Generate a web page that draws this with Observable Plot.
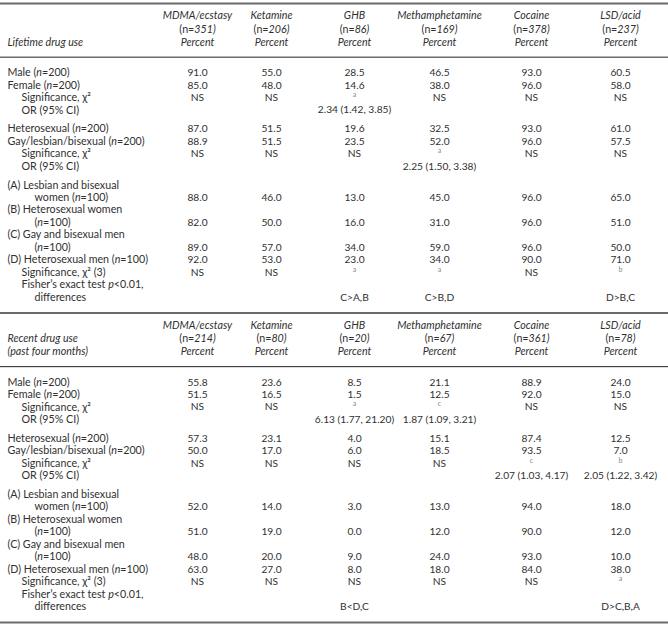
<!DOCTYPE html>
<html><head><meta charset="utf-8">
<script src="https://cdn.jsdelivr.net/npm/d3@7"></script>
<script src="https://cdn.jsdelivr.net/npm/@observablehq/plot@0.6"></script>
<style>
body{margin:0;background:#fff;}
#chart svg{display:block;}
</style></head><body><div id="chart"></div>
<script>
// ---------- data ----------
const drugs = ["MDMA/ecstasy","Ketamine","GHB","Methamphetamine","Cocaine","LSD/acid"];
const panelTitles = [["Lifetime drug use"], ["Recent drug use","(past four months)"]];
const lifetimeN = [351,206,86,169,378,237];
const recentN = [214,80,20,67,361,78];
const rowLabels = [
  "Male (*n*=200)",
  "Female (*n*=200)",
  "Significance, χ²",
  "OR (95% CI)",
  "Heterosexual (*n*=200)",
  "Gay/lesbian/bisexual (*n*=200)",
  "Significance, χ²",
  "OR (95% CI)",
  "(A) Lesbian and bisexual",
  "women (*n*=100)",
  "(B) Heterosexual women",
  "(*n*=100)",
  "(C) Gay and bisexual men",
  "(*n*=100)",
  "(D) Heterosexual men (*n*=100)",
  "Significance, χ² (3)",
  "Fisher’s exact test *p*<0.01,",
  "differences"
];
// one entry per label line; null = no values on that line; "^a" = superscript note
const lifetimeCells = [
  ["91.0","55.0","28.5","46.5","93.0","60.5"],
  ["85.0","48.0","14.6","38.0","96.0","58.0"],
  ["NS","NS","^a","NS","NS","NS"],
  ["","","2.34 (1.42, 3.85)","","",""],
  ["87.0","51.5","19.6","32.5","93.0","61.0"],
  ["88.9","51.5","23.5","52.0","96.0","57.5"],
  ["NS","NS","NS","^a","NS","NS"],
  ["","","","2.25 (1.50, 3.38)","",""],
  null,
  ["88.0","46.0","13.0","45.0","96.0","65.0"],
  null,
  ["82.0","50.0","16.0","31.0","96.0","51.0"],
  null,
  ["89.0","57.0","34.0","59.0","96.0","50.0"],
  ["92.0","53.0","23.0","34.0","90.0","71.0"],
  ["NS","NS","^a","^a","NS","^b"],
  null,
  ["","","C>A,B","C>B,D","","D>B,C"]
];
const recentCells = [
  ["55.8","23.6","8.5","21.1","88.9","24.0"],
  ["51.5","16.5","1.5","12.5","92.0","15.0"],
  ["NS","NS","^a","^c","NS","NS"],
  ["","","6.13 (1.77, 21.20)","1.87 (1.09, 3.21)","",""],
  ["57.3","23.1","4.0","15.1","87.4","12.5"],
  ["50.0","17.0","6.0","18.5","93.5","7.0"],
  ["NS","NS","NS","NS","^c","^b"],
  ["","","","","2.07 (1.03, 4.17)","2.05 (1.22, 3.42)"],
  null,
  ["52.0","14.0","3.0","13.0","94.0","18.0"],
  null,
  ["51.0","19.0","0.0","12.0","90.0","12.0"],
  null,
  ["48.0","20.0","9.0","24.0","93.0","10.0"],
  ["63.0","27.0","8.0","18.0","84.0","38.0"],
  ["NS","NS","NS","NS","NS","^a"],
  null,
  ["","","B<D,C","","","D>C,B,A"]
];

// ---------- layout (units of one body line) ----------
const colRange = [7, 197, 271, 354, 439, 531, 620];   // x range for the ordinal column scale
const rowIndent = [0,0,1,1, 0,0,1,1, 0,2,0,2,0,2,0,1,1,2];
const PANEL = 24.8, HEAD = [1.0, 2.05, 3.1], HEAD_RULE = 4.3, BODY0 = 5.55, GAP = 0.5;
const lineY = (p, i) => p * PANEL + BODY0 + i + (i >= 4 ? GAP : 0) + (i >= 8 ? GAP : 0);

// ---------- build tables ----------
const labels = [], cells = [], notes = [], heads = [], titles = [];
[lifetimeCells, recentCells].forEach((tab, p) => {
  rowLabels.forEach((lab, i) => labels.push({text: lab, indent: rowIndent[i], y: lineY(p, i)}));
  tab.forEach((row, i) => {
    if (!row) return;
    row.forEach((v, j) => {
      if (!v) return;
      const d = {drug: drugs[j], y: lineY(p, i), text: v.replace("^", "")};
      (v.startsWith("^") ? notes : cells).push(d);
    });
  });
  const ns = p === 0 ? lifetimeN : recentN;
  drugs.forEach((dr, j) => {
    heads.push({drug: dr, y: p * PANEL + HEAD[0], text: dr});
    heads.push({drug: dr, y: p * PANEL + HEAD[1], text: `*(n=*${ns[j]})`});
    heads.push({drug: dr, y: p * PANEL + HEAD[2], text: "Percent"});
  });
  const t = panelTitles[p];
  t.forEach((s, k) => titles.push({drug: "label", y: p * PANEL + HEAD[3 - t.length + k], text: s}));
});
const thickRules = [0, PANEL, 2 * PANEL].map(y => ({y}));
const thinRules = [HEAD_RULE, PANEL + HEAD_RULE].map(y => ({y}));

const ink = "#303030";
const chart = Plot.plot({
  width: 668, height: 633,
  marginTop: 0, marginBottom: 0, marginLeft: 0, marginRight: 0,
  style: {fontFamily: "Lato, 'Open Sans', sans-serif", fontSize: "10.7px", color: ink, background: "#fff"},
  x: {type: "ordinal", domain: ["label", ...drugs], range: colRange, axis: null},
  y: {type: "linear", domain: [0, 2 * PANEL], range: [3, 622], axis: null},
  marks: [
    Plot.ruleY(thickRules, {y: "y", stroke: "#6a6a6a", strokeWidth: 2}),
    Plot.ruleY(thinRules, {y: "y", stroke: "#222", strokeWidth: 1}),
    Plot.text(heads, {x: "drug", y: "y", text: "text", fontStyle: "italic", textAnchor: "middle", fill: ink}),
    Plot.text(titles, {x: "drug", y: "y", text: "text", fontStyle: "italic", textAnchor: "start", fill: ink}),
    Plot.text(labels.filter(d => d.indent === 0), {x: () => "label", y: "y", text: "text", textAnchor: "start", fill: ink}),
    Plot.text(labels.filter(d => d.indent === 1), {x: () => "label", y: "y", text: "text", textAnchor: "start", dx: 14, fill: ink}),
    Plot.text(labels.filter(d => d.indent === 2), {x: () => "label", y: "y", text: "text", textAnchor: "start", dx: 27, fill: ink}),
    Plot.text(cells, {x: "drug", y: "y", text: "text", textAnchor: "middle", fontSize: 10.2, fill: ink}),
    Plot.text(notes, {x: "drug", y: "y", text: "text", textAnchor: "middle", fontSize: 7, dy: -3, fill: "#8a8a8a"})
  ]
});

// mixed italic / upright segments marked with *...*
chart.querySelectorAll("text").forEach(el => {
  if (el.children.length || !el.textContent.includes("*")) return;
  const parts = el.textContent.split("*");
  const base = el.closest("[font-style=italic]") ? "italic" : "normal";
  el.textContent = "";
  parts.forEach((s, k) => {
    if (!s) return;
    const ts = document.createElementNS("http://www.w3.org/2000/svg", "tspan");
    ts.textContent = s;
    if (k % 2) ts.setAttribute("font-style", base === "italic" ? "normal" : "italic");
    el.appendChild(ts);
  });
});
document.getElementById("chart").appendChild(chart);
</script></body></html>
